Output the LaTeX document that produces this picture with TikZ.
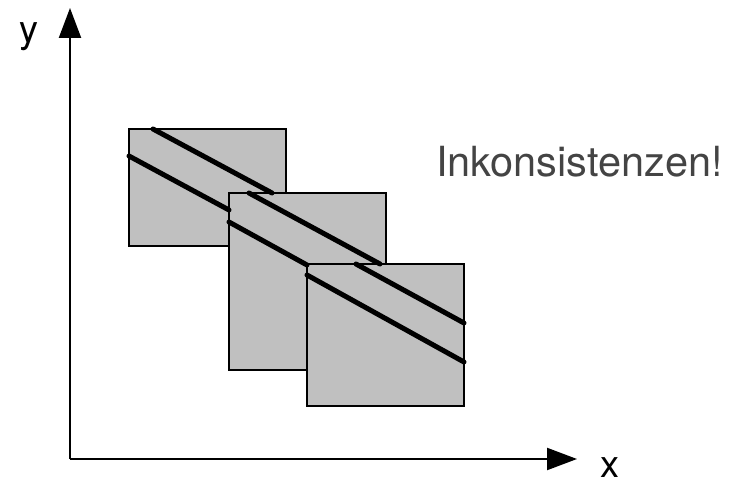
\documentclass[tikz,border=0pt]{standalone}
\usepackage{fontspec}
\setmainfont{TeX Gyre Heros}
\usetikzlibrary{arrows.meta}
\definecolor{boxfill}{RGB}{192,192,192}
\definecolor{textgray}{RGB}{68,68,68}
\tikzset{
  axis/.style={line width=2.2bp, -{Triangle[length=30bp,width=22bp]}},
  patch/.style={draw=black, fill=boxfill, line width=2bp, inner sep=0pt, outer sep=0pt, anchor=north west},
  edge/.style={line width=5bp, line cap=round},
  axislabel/.style={font=\fontsize{38bp}{44bp}\selectfont, anchor=base, inner sep=0pt},
}
\begin{document}
\begin{tikzpicture}[x=1bp, y=-1bp]
\useasboundingbox[fill=white] (0,0) rectangle (744,481);
% axes
\coordinate (o) at (70,459);
\coordinate (ytip) at (70,8);
\coordinate (xtip) at (577,459);
\draw[axis] (o) -- (ytip);
\draw[axis] (o) -- (xtip);
\node[axislabel] (ylab) at (29,43) {y};
\node[axislabel] (xlab) at (610,477) {x};
% patches
\node[patch, minimum width=157bp, minimum height=117bp] (b1) at (129,129) {};
\node[patch, minimum width=157bp, minimum height=177bp] (b2) at (229,193) {};
\node[patch, minimum width=157bp, minimum height=142bp] (b3) at (307,264) {};
% edges in patch 1
\coordinate (a1) at (153,129); \coordinate (a2) at (272,193);
\coordinate (a3) at (129,156); \coordinate (a4) at (229,210);
% edges in patch 2
\coordinate (c1) at (249,193); \coordinate (c2) at (380,264);
\coordinate (c3) at (229,222); \coordinate (c4) at (307,265);
% edges in patch 3
\coordinate (d1) at (356,264); \coordinate (d2) at (464,323);
\coordinate (d3) at (307,275); \coordinate (d4) at (464,362);
\draw[edge] (a1) -- (a2);
\draw[edge] (a3) -- (a4);
\draw[edge] (c1) -- (c2);
\draw[edge] (c3) -- (c4);
\draw[edge] (d1) -- (d2);
\draw[edge] (d3) -- (d4);
% text
\node[anchor=base west, inner sep=0pt, text=textgray, font=\fontsize{41.5bp}{48bp}\selectfont] (msg) at (436,177) {Inkonsistenzen!};
\end{tikzpicture}
\end{document}
